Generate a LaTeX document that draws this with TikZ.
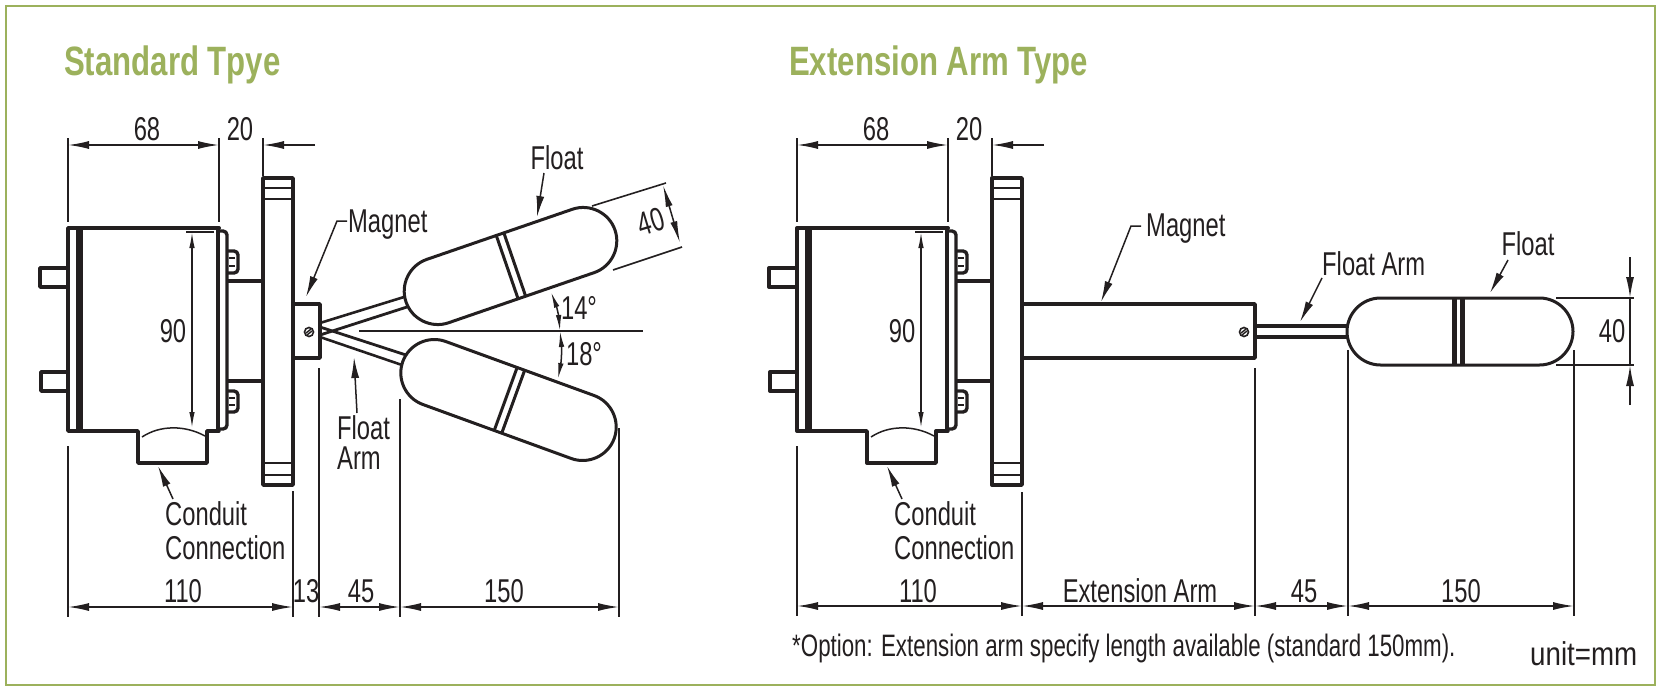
\documentclass[tikz,border=0pt]{standalone}
\usepackage{fontspec}
\setmainfont[FakeStretch=0.72]{Liberation Sans}
\newfontfamily\titlefont[FakeStretch=0.76]{Liberation Sans}
\newfontfamily\unitfont[FakeStretch=0.84]{Liberation Sans}
\usetikzlibrary{arrows.meta}
\definecolor{ink}{HTML}{231F20}
\definecolor{leaf}{HTML}{9CB15C}
\tikzset{
  outline/.style={draw=ink,line width=3.4,line join=round,line cap=round},
  fine/.style={draw=ink,line width=1.5},
  dimline/.style={draw=ink,line width=1.6},
  dimtips/.style={dimline,{Latex[length=21,width=8]}-{Latex[length=21,width=8]}},
  dimtip/.style={dimline,-{Latex[length=21,width=8]}},
  leader/.style={draw=ink,line width=1.5,-{Latex[length=21,width=8]}},
  narrowtips/.style={draw=ink,line width=1.5,{Latex[length=16,width=5.5]}-{Latex[length=16,width=5.5]}},
  slanttips/.style={draw=ink,line width=1.5,{Latex[length=22,width=7]}-{Latex[length=22,width=7]}},
  lab/.style={inner sep=0,text=ink,font=\fontsize{33}{33}\selectfont},
  ttl/.style={inner sep=0,anchor=base west,text=leaf,font=\titlefont\bfseries\fontsize{41}{41}\selectfont},
}
\newcommand{\housing}{%
  \draw[outline] (68,228) rectangle (80,431);
  \draw[draw=ink,line width=7] (79,228) -- (79,431);
  \draw[outline,line width=4] (80,228) -- (219,228);
  \draw[outline] (218,228) -- (218,431);
  \draw[outline] (80,431) -- (138,431) -- (138,463) -- (207,463) -- (207,431) -- (219,431);
  \draw[outline] (219,231) -- (223,231) to[out=0,in=90] (227,235) -- (227,425) to[out=-90,in=0] (223,429) -- (219,429);
  \draw[outline] (68,268) -- (40,268) -- (40,287) -- (68,287);
  \draw[outline] (68,372) -- (41,372) -- (41,391) -- (68,391);
  \draw[outline] (228,251) -- (234,251) to[out=0,in=90] (238,255) -- (238,269) to[out=-90,in=0] (234,273) -- (228,273);
  \draw[outline] (228,391) -- (234,391) to[out=0,in=90] (238,395) -- (238,408) to[out=-90,in=0] (234,412) -- (228,412);
  \draw[fine] (229,258) -- (235,258) (229,266) -- (235,266) (229,398) -- (235,398) (229,405) -- (235,405);
  \draw[outline] (228,281) -- (263,281);
  \draw[outline] (228,381) -- (263,381);
  \draw[outline] (263,178) rectangle (293,485);
  \draw[fine] (264,188) -- (292,188) (264,199) -- (292,199) (264,463) -- (292,463) (264,475) -- (292,475);
  \draw[fine] (142,437) .. controls (160,425) and (185,425) .. (205,436);
  \draw[fine] (186,232) -- (214,232);
  \draw[narrowtips] (192,232) -- (192,428);
  \node[lab,anchor=base] (n90\suffix) at (173,342) {90};
  \draw[dimline] (68,138) -- (68,222) (219,138) -- (219,222) (263,138) -- (263,176);
  \draw[dimtips] (68,145) -- (219,145);
  \draw[dimtip] (315,145) -- (263,145);
  \node[lab,anchor=base] (n68\suffix) at (147,140) {68};
  \node[lab,anchor=base] (n20\suffix) at (240,140) {20};
  \node[lab,anchor=base west] (cond\suffix) at (165,525) {Conduit};
  \node[lab,anchor=base west] (conn\suffix) at (165,559) {Connection};
  \coordinate (condTip\suffix) at (158,466);
  \coordinate (condTail\suffix) at (173,499);
  \draw[leader] (condTail\suffix) -- (condTip\suffix);
}
% centre x, centre y, angle, half straight length, band offset, band line width
\newcommand{\capsule}[6]{%
  \begin{scope}[shift={(#1,#2)},rotate=#3]
    \draw[outline,line width=3] (-#4,-33.5) -- (#4,-33.5)
      .. controls (#4+18.4,-33.5) and (#4+33.5,-18.4) .. (#4+33.5,0)
      .. controls (#4+33.5,18.4) and (#4+18.4,33.5) .. (#4,33.5)
      -- (-#4,33.5)
      .. controls (-#4-18.4,33.5) and (-#4-33.5,18.4) .. (-#4-33.5,0)
      .. controls (-#4-33.5,-18.4) and (-#4-18.4,-33.5) .. (-#4,-33.5) -- cycle;
    \draw[draw=ink,line width=#6] (#5-4,-33.5) -- (#5-4,33.5) (#5+4,-33.5) -- (#5+4,33.5);
  \end{scope}}
\newcommand{\screw}[2]{%
  \draw[draw=ink,line width=1.6] (#1,#2) circle[radius=4.5];
  \draw[draw=ink,line width=1.4] (#1-3,#2+1) -- (#1+2,#2-3) (#1-2,#2+3) -- (#1+3,#2-1);}
\begin{document}
\begin{tikzpicture}[x=1pt,y=-1pt]
\useasboundingbox (0,0) rectangle (1660,688);
\fill[white] (0,0) rectangle (1660,688);
\draw[draw=leaf,line width=2.6] (6,6) rectangle (1655,685);
\node[ttl] (titleA) at (64,75) {Standard Tpye};
\node[ttl] (titleB) at (789,75) {Extension Arm Type};
% ---------- left drawing
\def\suffix{A}
\housing
\draw[outline] (293,304) -- (320,304) -- (320,358) -- (293,358);
\screw{309}{332}
\draw[outline,line width=2.6] (320,323) -- (404,297);
\draw[outline,line width=2.8] (320,335) -- (407,307);
\draw[outline,line width=2.8] (320,327) -- (406,355);
\draw[outline,line width=2.6] (320,337) -- (402,365);
\capsule{510.5}{266}{19}{77}{0.5}{3}
\capsule{508.5}{400}{-20}{79}{1}{3}
\draw[draw=ink,line width=1.8] (359,331) -- (643,331);
\draw[narrowtips] (551,292) to[bend left=8] (560,331);
\draw[narrowtips] (560,331) to[bend left=8] (558,379);
\node[lab,anchor=center] (a14) at (579,308) {14°};
\node[lab,anchor=center] (a18) at (584,354) {18°};
\draw[dimline] (592,206) -- (666,183) (613,270) -- (682,247);
\draw[slanttips] (663,185) -- (680,243);
\node[lab,anchor=center,rotate=17] (d40a) at (651,222) {40};
\node[lab,anchor=base] (floatA) at (557,169) {Float};
\coordinate (floatATail) at (544,173);
\coordinate (floatATip) at (537,217);
\draw[leader] (floatATail) -- (floatATip);
\node[lab,anchor=base west] (magA) at (348,232) {Magnet};
\coordinate (magATail) at (347,221);
\coordinate (magATip) at (306,297);
\draw[leader] (magATail) -- (337,221) -- (magATip);
\node[lab,anchor=base west] (armA1) at (337,439) {Float};
\node[lab,anchor=base west] (armA2) at (337,469) {Arm};
\coordinate (armATail) at (357,413);
\coordinate (armATip) at (354,357);
\draw[leader] (armATail) -- (armATip);
\draw[dimline] (68,446) -- (68,617) (293,491) -- (293,617) (319,368) -- (319,617) (400,399) -- (400,617) (619,428) -- (619,617);
\draw[dimtips] (68,607) -- (293,607);
\draw[dimtips] (319,607) -- (400,607);
\draw[dimtips] (400,607) -- (619,607);
\node[lab,anchor=base] (w110a) at (183,602) {110};
\node[lab,anchor=base] (w13) at (306,602) {13};
\node[lab,anchor=base] (w45a) at (361,602) {45};
\node[lab,anchor=base] (w150a) at (504,602) {150};
% ---------- right drawing
\def\suffix{B}
\begin{scope}[shift={(729,0)}]
\housing
\end{scope}
\draw[outline] (1022,304) -- (1255,304) -- (1255,358) -- (1022,358);
\screw{1244}{332}
\draw[outline] (1255,326) -- (1347,326);
\draw[outline] (1255,337) -- (1347,337);
\capsule{1460}{331.5}{0}{79.5}{-1.5}{4.5}
\node[lab,anchor=base west] (magB) at (1146,236) {Magnet};
\coordinate (magBTail) at (1141,226);
\coordinate (magBTip) at (1101,302);
\draw[leader] (magBTail) -- (1131,226) -- (magBTip);
\node[lab,anchor=base west] (armB) at (1322,275) {Float Arm};
\coordinate (armBTail) at (1322,278);
\coordinate (armBTip) at (1300,322);
\draw[leader] (armBTail) -- (armBTip);
\node[lab,anchor=base] (floatB) at (1528,255) {Float};
\coordinate (floatBTail) at (1508,260);
\coordinate (floatBTip) at (1490,293);
\draw[leader] (floatBTail) -- (floatBTip);
\draw[dimline] (1556,298) -- (1634,298) (1556,365) -- (1634,365) (1630,298) -- (1630,365);
\draw[dimtip] (1630,257) -- (1630,298);
\draw[dimtip] (1630,405) -- (1630,365);
\node[lab,anchor=center] (d40b) at (1612,331) {40};
\draw[dimline] (797,446) -- (797,616) (1022,492) -- (1022,616) (1255,368) -- (1255,616) (1348,350) -- (1348,616) (1574,350) -- (1574,616);
\draw[dimtips] (797,606) -- (1022,606);
\draw[dimtips] (1022,606) -- (1255,606);
\draw[dimtips] (1255,606) -- (1348,606);
\draw[dimtips] (1348,606) -- (1574,606);
\node[lab,anchor=base] (w110b) at (918,602) {110};
\node[lab,anchor=base] (wext) at (1140,602) {Extension Arm};
\node[lab,anchor=base] (w45b) at (1304,602) {45};
\node[lab,anchor=base] (w150b) at (1461,602) {150};
\node[lab,anchor=base west,font=\fontsize{31}{31}\selectfont] (note) at (792,656) {*Option: Extension arm specify length available (standard 150mm).};
\node[lab,anchor=base west,font=\unitfont\fontsize{33}{33}\selectfont] (unit) at (1530,665) {unit=mm};
\end{tikzpicture}
\end{document}
